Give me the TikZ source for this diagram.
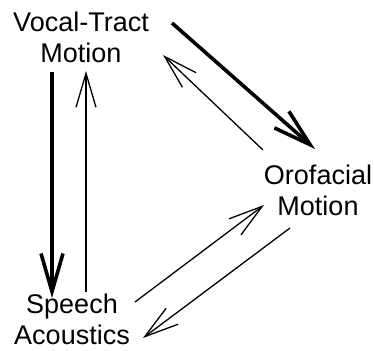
\documentclass[tikz,border=0pt]{standalone}
\usepackage{fontspec}
\setmainfont{Liberation Sans}
\usetikzlibrary{arrows.meta,calc}
\begin{document}
\begin{tikzpicture}[x=1pt, y=-1pt,
    lbl/.style={align=center, inner sep=0pt, font=\fontsize{27}{31}\selectfont},
    thinarrow/.style={line width=1.3pt, -{Straight Barb[length=34pt, width=20pt]}},
    thickarrow/.style={line width=3.6pt, -{Straight Barb[length=38pt, width=22pt]}}]
    \useasboundingbox (0,0) rectangle (374,350);
    
    % Labels
    \node[lbl] (vt) at (81,37.5) {Vocal-Tract\\Motion};
    \node[lbl] (of) at (318,190) {Orofacial\\Motion};
    \node[lbl] (sa) at (72,319) {Speech\\Acoustics};
    
    % Vocal tract <-> acoustics
    \draw[thickarrow] ($(vt)+(-29,34.5)$) -- ($(sa)+(-20,-21)$);
    \draw[thinarrow] ($(sa)+(14,-27)$) -- ($(vt)+(5,33.5)$);
    
    % Vocal tract <-> orofacial
    \draw[thickarrow] ($(vt)+(91,-14.5)$) -- ($(of)+(-3,-41)$);
    \draw[thinarrow] ($(of)+(-55,-40)$) -- ($(vt)+(82,17.5)$);
    
    % Acoustics <-> orofacial
    \draw[thinarrow] ($(sa)+(63,-17)$) -- ($(of)+(-54,15)$);
    \draw[thinarrow] ($(of)+(-28,38)$) -- ($(sa)+(71,19)$);
\end{tikzpicture}
\end{document}
